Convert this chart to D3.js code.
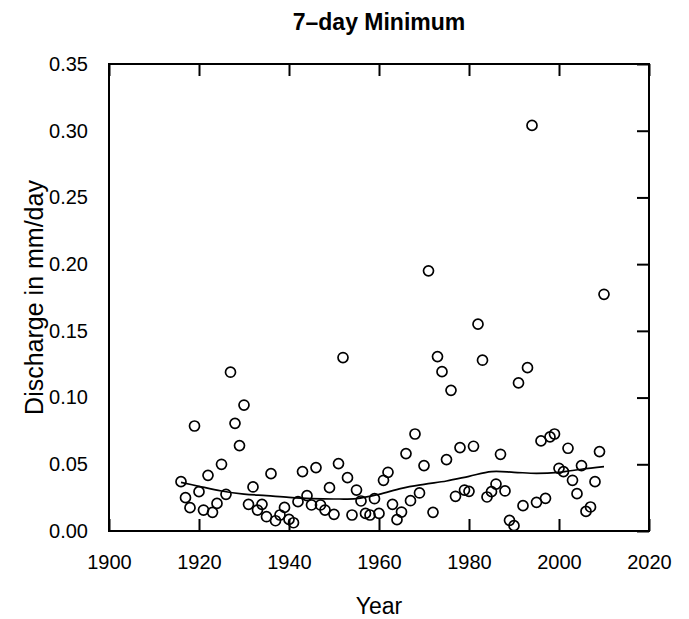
<!DOCTYPE html>
<html>
<head>
<meta charset="utf-8">
<script src="https://cdn.jsdelivr.net/npm/d3@7"></script>
<style>
  html, body { margin: 0; padding: 0; background: #ffffff; }
  svg { display: block; font-family: "Liberation Sans", Arial, Helvetica, sans-serif; }
</style>
</head>
<body>
<script>
// Annual 7-day minimum discharge (mm/day), 1916–2010
const years = d3.range(1916, 2011);
const minFlow = [
  0.0370, 0.0250, 0.0175, 0.0787, 0.0295, 0.0157, 0.0417, 0.0140, 0.0207, 0.0500,
  0.0275, 0.1190, 0.0807, 0.0640, 0.0944, 0.0200, 0.0330, 0.0157, 0.0200, 0.0107,
  0.0430, 0.0077, 0.0120, 0.0177, 0.0087, 0.0062, 0.0220, 0.0445, 0.0265, 0.0195,
  0.0475, 0.0195, 0.0157, 0.0325, 0.0125, 0.0505, 0.1300, 0.0400, 0.0120, 0.0307,
  0.0225, 0.0132, 0.0120, 0.0242, 0.0132, 0.0380, 0.0440, 0.0200, 0.0085, 0.0142,
  0.0580, 0.0227, 0.0727, 0.0285, 0.0490, 0.1950, 0.0140, 0.1307, 0.1194, 0.0535,
  0.1054, 0.0260, 0.0625, 0.0307, 0.0297, 0.0635, 0.1550, 0.1280, 0.0255, 0.0295,
  0.0352, 0.0575, 0.0300, 0.0080, 0.0040, 0.1110, 0.0190, 0.1224, 0.3040, 0.0215,
  0.0675, 0.0245, 0.0705, 0.0727, 0.0470, 0.0445, 0.0620, 0.0380, 0.0280, 0.0490,
  0.0147, 0.0180, 0.0370, 0.0595, 0.1774
];

// Smoothed trend through the series
const trendYears = [1916, 1920, 1925, 1930, 1935, 1940, 1945, 1950, 1955, 1960,
                    1965, 1970, 1975, 1980, 1985, 1990, 1995, 2000, 2005, 2010];
const trendValues = [0.0365, 0.0335, 0.0300, 0.0277, 0.0265, 0.0252, 0.0243, 0.0240, 0.0243, 0.0275,
                     0.0320, 0.0350, 0.0375, 0.0410, 0.0445, 0.0440, 0.0432, 0.0440, 0.0463, 0.0482];

const xTicks = [1900, 1920, 1940, 1960, 1980, 2000, 2020];
const yTicks = [0.00, 0.05, 0.10, 0.15, 0.20, 0.25, 0.30, 0.35];

const W = 689, H = 619;
const plot = { left: 109, right: 649, top: 64, bottom: 531 };
const FONT = "Liberation Sans, Arial, sans-serif";

const svg = d3.select("body").append("svg")
  .attr("width", W).attr("height", H);

const x = d3.scaleLinear().domain([1900, 2020]).range([plot.left, plot.right]);
const y = d3.scaleLinear().domain([0, 0.35]).range([plot.bottom, plot.top]);

const tickLen = 12;

// Bottom axis: labels below, ticks pointing into the plot
const xAxis = svg.append("g")
  .attr("transform", `translate(0,${plot.bottom})`)
  .call(d3.axisBottom(x).tickValues(xTicks).tickFormat(d3.format("d"))
        .tickSizeInner(-tickLen).tickSizeOuter(0).tickPadding(tickLen + 12));
xAxis.select(".domain").remove();
xAxis.selectAll("line").attr("stroke", "#000").attr("stroke-width", 2);
xAxis.selectAll("text").attr("font-size", 20).attr("fill", "#000")
  .attr("font-family", FONT);

// Top axis ticks
const xTop = svg.append("g")
  .attr("transform", `translate(0,${plot.top})`)
  .call(d3.axisTop(x).tickValues(xTicks).tickFormat("")
        .tickSizeInner(-tickLen).tickSizeOuter(0));
xTop.select(".domain").remove();
xTop.selectAll("line").attr("stroke", "#000").attr("stroke-width", 2);

// Left axis: labels only
const yAxis = svg.append("g")
  .attr("transform", `translate(${plot.left},0)`)
  .call(d3.axisLeft(y).tickValues(yTicks).tickFormat(d3.format(".2f"))
        .tickSize(0).tickPadding(21));
yAxis.select(".domain").remove();
yAxis.selectAll("text").attr("font-size", 20).attr("fill", "#000")
  .attr("font-family", FONT);

// Right axis ticks pointing inward
const yRight = svg.append("g")
  .attr("transform", `translate(${plot.right},0)`)
  .call(d3.axisRight(y).tickValues(yTicks).tickFormat("")
        .tickSizeInner(-tickLen).tickSizeOuter(0));
yRight.select(".domain").remove();
yRight.selectAll("line").attr("stroke", "#000").attr("stroke-width", 2);

// Plot frame
svg.append("rect")
  .attr("x", plot.left).attr("y", plot.top)
  .attr("width", plot.right - plot.left).attr("height", plot.bottom - plot.top)
  .attr("fill", "none").attr("stroke", "#000").attr("stroke-width", 2);

// Trend line
const line = d3.line()
  .x((d, i) => x(trendYears[i]))
  .y(d => y(d))
  .curve(d3.curveCatmullRom.alpha(0.5));
svg.append("path")
  .datum(trendValues)
  .attr("d", line)
  .attr("fill", "none").attr("stroke", "#000").attr("stroke-width", 1.7);

// Annual points
svg.append("g").selectAll("circle")
  .data(minFlow)
  .join("circle")
  .attr("cx", (d, i) => x(years[i]))
  .attr("cy", d => y(d))
  .attr("r", 5)
  .attr("fill", "none")
  .attr("stroke", "#000")
  .attr("stroke-width", 1.7);

// Title and axis titles
svg.append("text")
  .attr("x", (plot.left + plot.right) / 2).attr("y", 30)
  .attr("text-anchor", "middle")
  .attr("font-size", 23).attr("font-weight", "bold")
  .text("7–day Minimum");

svg.append("text")
  .attr("x", (plot.left + plot.right) / 2).attr("y", 614)
  .attr("text-anchor", "middle")
  .attr("font-size", 23)
  .text("Year");

svg.append("text")
  .attr("transform", `translate(43,${(plot.top + plot.bottom) / 2}) rotate(-90)`)
  .attr("text-anchor", "middle")
  .attr("font-size", 25)
  .text("Discharge in mm/day");
</script>
</body>
</html>
